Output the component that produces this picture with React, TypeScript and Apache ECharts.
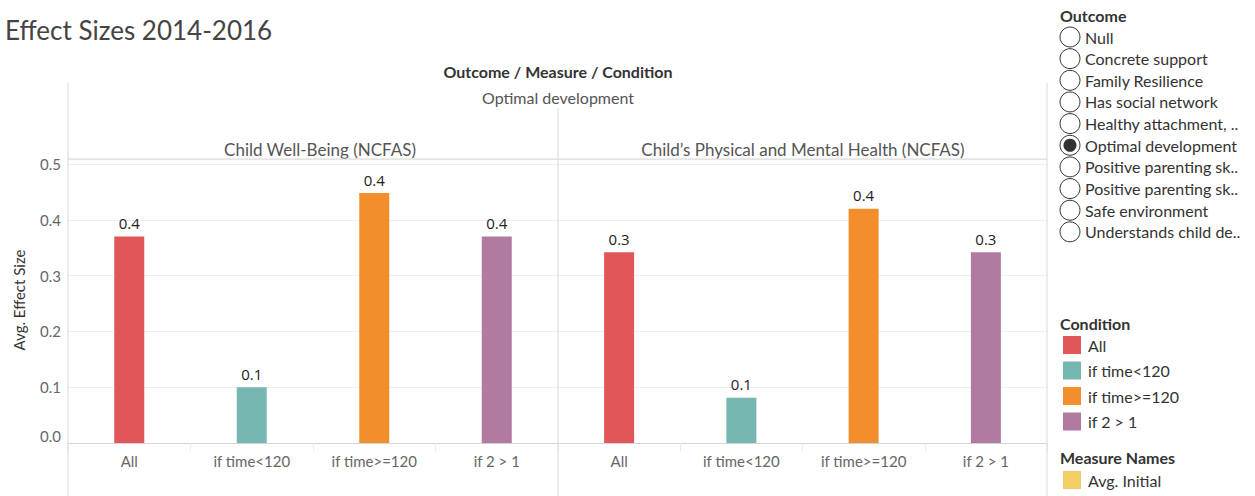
import React, { useEffect, useRef } from "react";
import * as echarts from "echarts";

const categories = ["All", "if time<120", "if time>=120", "if 2 > 1"];
const wellBeingValues = [0.37, 0.1, 0.448, 0.37];
const healthValues = [0.342, 0.081, 0.42, 0.342];
const conditionColors = ["#e15759", "#76b7b2", "#f28e2b", "#b07aa1"];
const panelTitles = ["Child Well-Being (NCFAS)", "Child\u2019s Physical and Mental Health (NCFAS)"];
const outcomeItems = [
  "Null",
  "Concrete support",
  "Family Resilience",
  "Has social network",
  "Healthy attachment, ..",
  "Optimal development",
  "Positive parenting sk..",
  "Positive parenting sk..",
  "Safe environment",
  "Understands child de..",
];
const selectedOutcome = "Optimal development";
const measureNames = ["Avg. Initial"];
const measureColors = ["#f1ce63"];

const FONT = "Lato, 'Open Sans', sans-serif";

function txt(text: string, x: number, y: number, size: number, fill: string, align = "left", weight = "normal", extra: any = {}) {
  return {
    type: "text",
    x,
    y,
    silent: true,
    ...extra,
    style: {
      text,
      x: 0,
      y: 0,
      fill,
      font: `${weight} ${size}px ${FONT}`,
      align,
      verticalAlign: "middle",
      textAlign: align,
      textVerticalAlign: "middle",
    },
  };
}

function line(x1: number, y1: number, x2: number, y2: number, stroke = "#d9d9d9") {
  return {
    type: "line",
    silent: true,
    z: 10,
    shape: { x1, y1, x2, y2 },
    style: { stroke, lineWidth: 1 },
  };
}

export default function App() {
  const ref = useRef<HTMLDivElement>(null);
  useEffect(() => {
    document.body.style.margin = "0";
    const chart = echarts.init(ref.current!, null, { renderer: "svg" });
    const yMax = 0.509;
    const makeY = (gridIndex: number, showLabel: boolean) => ({
      type: "value",
      gridIndex,
      min: 0,
      max: yMax,
      interval: 0.1,
      axisLine: { show: false },
      axisTick: { show: false },
      axisLabel: {
        show: showLabel,
        color: "#666",
        fontSize: 15,
        fontFamily: FONT,
        margin: 7,
        padding: [5, 0, 0, 0],
        verticalAlignMinLabel: "bottom",
        formatter: (v: number) => (Math.abs(v * 10 - Math.round(v * 10)) < 1e-6 ? v.toFixed(1) : ""),
      },
      splitLine: { lineStyle: { color: "#efefef", width: 1 } },
    });
    const makeX = (gridIndex: number) => ({
      type: "category",
      gridIndex,
      data: categories,
      axisLine: { lineStyle: { color: "#d4d4d4" } },
      axisTick: { show: true, length: 8, alignWithLabel: false, lineStyle: { color: "#ececec" } },
      axisLabel: { color: "#666", fontSize: 15, fontFamily: FONT, margin: 10 },
    });
    const makeSeries = (values: number[], idx: number) => ({
      type: "bar",
      xAxisIndex: idx,
      yAxisIndex: idx,
      barWidth: 30,
      data: values.map((v, i) => ({ value: v, itemStyle: { color: conditionColors[i] } })),
      label: {
        show: true,
        position: "top",
        distance: 6,
        color: "#222",
        fontSize: 15,
        fontFamily: "'Open Sans', sans-serif",
        formatter: (p: any) => Number(p.value).toFixed(1),
      },
    });

    const graphics: any[] = [];
    graphics.push(txt("Effect Sizes 2014-2016", 5, 30, 26, "#444", "left", "normal"));
    graphics.push(txt("Outcome / Measure / Condition", 558, 71, 16, "#333", "center", "bold"));
    graphics.push(txt("Optimal development", 558, 97, 16, "#555", "center"));
    graphics.push(txt(panelTitles[0], 320, 149, 17, "#555", "center"));
    graphics.push(txt(panelTitles[1], 803, 149, 17, "#555", "center"));
    graphics.push(txt("Avg. Effect Size", 19, 300, 15, "#333", "center", "normal", { rotation: Math.PI / 2 }));
    graphics.push(line(68, 83, 68, 496));
    graphics.push(line(558, 108, 558, 496));
    graphics.push(line(1047, 83, 1047, 496));
    graphics.push(line(68, 159, 1047, 159));

    graphics.push(txt("Outcome", 1060, 15, 16, "#333", "left", "bold"));
    outcomeItems.forEach((name, i) => {
      const cy = 37 + i * 21.65;
      graphics.push({
        type: "circle",
        silent: true,
        shape: { cx: 1070, cy, r: 10 },
        style: { fill: "#fff", stroke: "#333", lineWidth: 1 },
      });
      if (name === selectedOutcome) {
        graphics.push({
          type: "circle",
          silent: true,
          shape: { cx: 1070, cy, r: 6.5 },
          style: { fill: "#333" },
        });
      }
      graphics.push(txt(name, 1085, cy, 16, "#333"));
    });

    graphics.push(txt("Condition", 1060, 323, 16, "#333", "left", "bold"));
    categories.forEach((name, i) => {
      const cy = 345 + i * 25.5;
      graphics.push({
        type: "rect",
        silent: true,
        shape: { x: 1063, y: cy - 9, width: 18, height: 18 },
        style: { fill: conditionColors[i] },
      });
      graphics.push(txt(name, 1088, cy, 16, "#333"));
    });
    graphics.push(txt("Measure Names", 1060, 457, 16, "#333", "left", "bold"));
    measureNames.forEach((name, i) => {
      const cy = 480 + i * 25.5;
      graphics.push({
        type: "rect",
        silent: true,
        shape: { x: 1063, y: cy - 9, width: 18, height: 18 },
        style: { fill: measureColors[i] },
      });
      graphics.push(txt(name, 1088, cy, 16, "#333"));
    });

    chart.setOption({
      animation: false,
      backgroundColor: "#fff",
      grid: [
        { left: 68, top: 159, width: 490, height: 284 },
        { left: 558, top: 159, width: 489, height: 284 },
      ],
      xAxis: [makeX(0), makeX(1)],
      yAxis: [makeY(0, true), makeY(1, false)],
      series: [makeSeries(wellBeingValues, 0), makeSeries(healthValues, 1)],
      graphic: graphics,
    });
    return () => chart.dispose();
  }, []);
  return <div ref={ref} style={{ position: "absolute", left: 0, top: 0, width: 1255, height: 496 }} />;
}
